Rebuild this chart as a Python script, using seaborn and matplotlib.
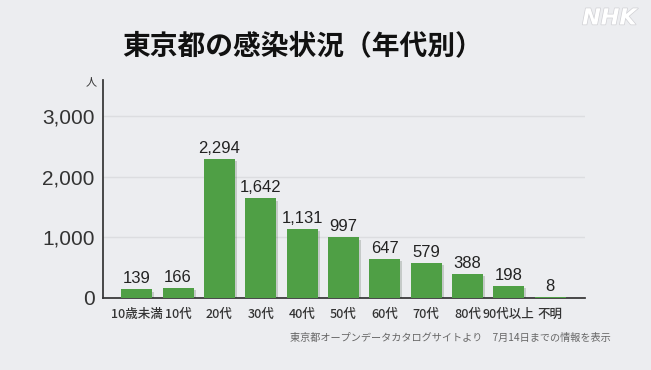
import matplotlib
matplotlib.use("Agg")
import matplotlib.pyplot as plt
import matplotlib.patheffects as pe
import seaborn as sns
import pandas as pd

# data
age_groups = ["10歳未満", "10代", "20代", "30代", "40代", "50代", "60代", "70代", "80代", "90代以上", "不明"]
cases = [139, 166, 2294, 1642, 1131, 997, 647, 579, 388, 198, 8]
y_ticks = [0, 1000, 2000, 3000]

df = pd.DataFrame({"age": age_groups, "cases": cases})

sns.set_theme(style="white")
plt.rcParams["font.family"] = ["Noto Sans CJK JP", "DejaVu Sans"]
num_font = ["Liberation Sans", "DejaVu Sans"]

bg = "#ecedf0"
fig = plt.figure(figsize=(6.51, 3.70), dpi=100, facecolor=bg)
ax = fig.add_axes([0.158, 0.195, 0.741, 0.589])
ax.set_facecolor(bg)

sns.barplot(data=df, x="age", y="cases", color="#4f9f45", width=0.75,
            saturation=1, linewidth=0, ax=ax, zorder=3)
for bar in ax.patches:
    bar.set_path_effects([pe.SimplePatchShadow(offset=(1.5, -1.5), alpha=0.18), pe.Normal()])

for i, v in enumerate(cases):
    ax.text(i, v + 50, f"{v:,}", ha="center", va="bottom", fontsize=12,
            color="#222222", family=num_font)

ax.set_ylim(0, 3600)
ax.set_xlim(-0.82, 10.85)
ax.set_yticks(y_ticks)
ax.set_yticklabels([f"{t:,}" for t in y_ticks], fontsize=15, color="#333333", family=num_font)
ax.tick_params(axis="x", labelsize=9, colors="#333333", length=4, width=1, direction="out", pad=3)
ax.tick_params(axis="y", length=4, width=1, direction="out", pad=2)
for lbl in ax.get_xticklabels():
    lbl.set_fontweight("medium")
for t in y_ticks[1:]:
    ax.axhline(t, color="#dcdde0", lw=1, zorder=0)

for s in ["top", "right"]:
    ax.spines[s].set_visible(False)
ax.spines["left"].set_color("#333333")
ax.spines["bottom"].set_color("#333333")
ax.set_xlabel("")
ax.set_ylabel("")

fig.text(0.148, 0.77, "人", fontsize=8, color="#333333", ha="right")
fig.text(0.465, 0.875, "東京都の感染状況（年代別）", fontsize=20, fontweight="bold",
         ha="center", va="center", color="#111111")
fig.text(0.938, 0.088, "東京都オープンデータカタログサイトより　7月14日までの情報を表示",
         fontsize=7.3, ha="right", va="center", color="#666666")
fig.text(0.978, 0.95, "NHK", fontsize=16, fontweight="bold", style="italic",
         ha="right", va="center", color="white", family="DejaVu Sans",
         path_effects=[pe.withStroke(linewidth=1, foreground="#d0d0d4")])

fig.savefig("out.png", dpi=100, facecolor=bg)
